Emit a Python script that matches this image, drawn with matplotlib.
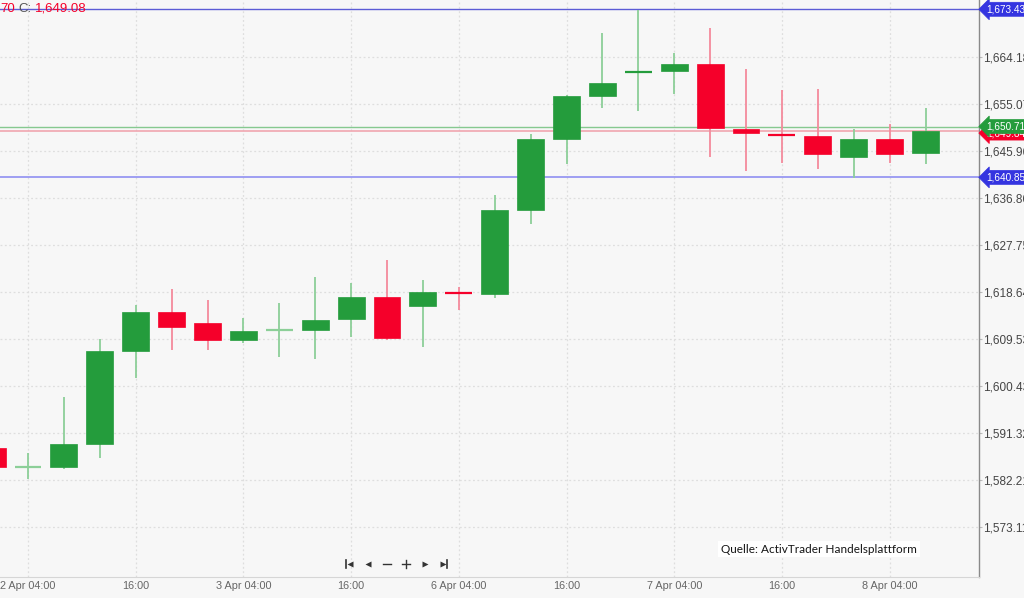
import matplotlib
matplotlib.use("Agg")
import matplotlib.pyplot as plt
from matplotlib.patches import Rectangle
from matplotlib.transforms import blended_transform_factory

# 4h candles, index 0 is partly hidden at the left edge
opens = [1588.40, 1584.60, 1584.72, 1589.24, 1607.20, 1614.82, 1612.69, 1609.33, 1611.20,
         1611.27, 1613.35, 1617.73, 1615.92, 1618.65, 1618.25, 1634.53, 1648.29, 1656.68,
         1661.20, 1661.47, 1662.82, 1650.29, 1649.25, 1648.93, 1644.86, 1648.23, 1645.52]
highs = [1589.50, 1587.38, 1598.35, 1609.47, 1616.12, 1619.22, 1617.09, 1613.54, 1616.45,
         1621.54, 1620.32, 1624.84, 1620.96, 1619.66, 1637.44, 1649.26, 1656.82, 1668.77,
         1673.29, 1664.90, 1669.74, 1661.80, 1657.79, 1657.92, 1650.17, 1651.20, 1654.24]
lows = [1583.50, 1582.34, 1584.28, 1586.53, 1601.91, 1607.40, 1607.40, 1608.81, 1606.10,
        1605.60, 1609.97, 1609.33, 1608.04, 1615.15, 1617.47, 1631.82, 1643.44, 1654.24,
        1653.77, 1656.95, 1644.74, 1642.14, 1643.58, 1642.42, 1640.67, 1643.70, 1643.44]
closes = [1584.72, 1584.80, 1589.18, 1607.20, 1614.82, 1611.85, 1609.33, 1611.14, 1611.30,
          1613.21, 1617.73, 1609.66, 1618.58, 1618.50, 1634.53, 1648.23, 1656.68, 1659.08,
          1661.35, 1662.82, 1650.36, 1649.39, 1649.00, 1645.32, 1648.23, 1645.32, 1649.84]

tick_idx = [1, 4, 7, 10, 13, 16, 19, 22, 25]
tick_lbl = ["2 Apr 04:00", "16:00", "3 Apr 04:00", "16:00", "6 Apr 04:00",
            "16:00", "7 Apr 04:00", "16:00", "8 Apr 04:00"]
y_ticks = [1573.11, 1582.21, 1591.32, 1600.43, 1609.53, 1618.64,
           1627.75, 1636.86, 1645.96, 1655.07, 1664.18]

high_line = 1673.43
low_line = 1640.85
green_line = 1650.71
red_line = closes[-1]

GREEN = "#249c3c"
RED = "#f5002a"
GREEN_W = "#8ccf98"
RED_W = "#f48a9c"
BG = "#f7f7f7"

plt.rcParams['font.family'] = ['Liberation Sans', 'DejaVu Sans']

fig = plt.figure(figsize=(10.24, 5.98), dpi=100, facecolor=BG)
ax = fig.add_axes([0, 21 / 598, 979 / 1024, 577 / 598])
ax.set_facecolor(BG)

w = 0.75
for i in range(len(opens)):
    o, h, l, c = opens[i], highs[i], lows[i], closes[i]
    up = c >= o
    col = GREEN if up else RED
    wc = GREEN_W if up else RED_W
    ax.plot([i, i], [l, h], color=wc, lw=1.3, zorder=2, solid_capstyle='butt')
    if abs(c - o) < 0.3:
        ax.plot([i - w / 2, i + w / 2], [c, c], color=wc if i in (1, 8) else col,
                lw=1.6, zorder=3, solid_capstyle='butt')
    else:
        ax.add_patch(Rectangle((i - w / 2, min(o, c)), w, abs(c - o),
                               facecolor=col, edgecolor=col, lw=0.5, zorder=3))

ax.axhline(high_line, color="#5c5cd6", lw=1.0, zorder=1)
ax.axhline(low_line, color="#8f8ff2", lw=1.2, zorder=1)
ax.axhline(green_line, color="#86c990", lw=1.0, zorder=1)
ax.axhline(red_line, color="#f0a6b0", lw=1.2, zorder=1)

ax.set_xlim(0.22, 27.49)
ax.set_ylim(1563.40, 1675.23)

ax.set_xticks(tick_idx)
ax.set_xticklabels(tick_lbl)
ax.set_yticks(y_ticks)
ax.set_yticklabels(["{:,.2f}".format(v) for v in y_ticks])
ax.yaxis.tick_right()
ax.tick_params(axis='y', length=2, color="#bbbbbb", labelsize=8.5, labelcolor="#444444", pad=0.8)
ax.tick_params(axis='x', length=0, labelsize=7.8, labelcolor="#666666", pad=3)
ax.grid(True, color="#dedede", ls=(0, (1.5, 2)), lw=0.9)
ax.set_axisbelow(True)

for s in ['top', 'left']:
    ax.spines[s].set_visible(False)
ax.spines['right'].set_color("#8a8a8a")
ax.spines['right'].set_linewidth(1.0)
ax.spines['bottom'].set_color("#d6d6d6")

# price tags on the right axis
tr = blended_transform_factory(ax.transAxes, ax.transData)
tags = [(red_line, RED, 5, -0.4), (green_line, GREEN, 6, 0), (high_line, "#3434e0", 6, 0), (low_line, "#3434e0", 6, 0)]
for val, col, z, dy in tags:
    ax.text(1.0075, val + dy, "{:,.2f}".format(val), transform=tr,
            ha='left', va='center', fontsize=7.2, color='white', zorder=z, clip_on=False,
            bbox=dict(boxstyle='larrow,pad=0.2', fc=col, ec=col, lw=0.5))

# header (clipped OHLC readout)
fig.text(0.0, 0.985, "70", color=RED, fontsize=9.5, va='center', ha='left')
fig.text(0.0175, 0.985, "C:", color="#555555", fontsize=9.5, va='center', ha='left')
fig.text(0.0345, 0.985, "1,649.08", color=RED, fontsize=9.5, va='center', ha='left')

# source note
ax.text(0.937, 0.0485, "Quelle: ActivTrader Handelsplattform", transform=ax.transAxes,
        ha='right', va='center', fontsize=8.5, color="#151515", family='Lato',
        bbox=dict(boxstyle='square,pad=0.25', fc='white', ec='none'), zorder=7)

# navigation buttons
ny = 1 - 564 / 598
navx = [349, 368, 387, 406, 425, 444]
ft = fig.transFigure
fig.lines.append(plt.Line2D([navx[0] / 1024 - 0.0032] * 2, [ny - 0.006, ny + 0.006], transform=ft, color="#333333", lw=1.2))
fig.lines.append(plt.Line2D([navx[5] / 1024 + 0.0032] * 2, [ny - 0.006, ny + 0.006], transform=ft, color="#333333", lw=1.2))
fig.lines.append(plt.Line2D([navx[0] / 1024 + 0.0005], [ny], transform=ft, marker='<', ms=4.5, color="#333333", mec='none'))
fig.lines.append(plt.Line2D([navx[1] / 1024], [ny], transform=ft, marker='<', ms=4.5, color="#333333", mec='none'))
fig.lines.append(plt.Line2D([navx[4] / 1024], [ny], transform=ft, marker='>', ms=4.5, color="#333333", mec='none'))
fig.lines.append(plt.Line2D([navx[5] / 1024 - 0.0005], [ny], transform=ft, marker='>', ms=4.5, color="#333333", mec='none'))
fig.lines.append(plt.Line2D([navx[2] / 1024 - 0.004, navx[2] / 1024 + 0.004], [ny, ny], transform=ft, color="#333333", lw=1.0))
fig.lines.append(plt.Line2D([navx[3] / 1024 - 0.004, navx[3] / 1024 + 0.004], [ny, ny], transform=ft, color="#333333", lw=1.0))
fig.lines.append(plt.Line2D([navx[3] / 1024] * 2, [ny - 0.0068, ny + 0.0068], transform=ft, color="#333333", lw=1.0))

fig.savefig("out.png", dpi=100, facecolor=BG)
